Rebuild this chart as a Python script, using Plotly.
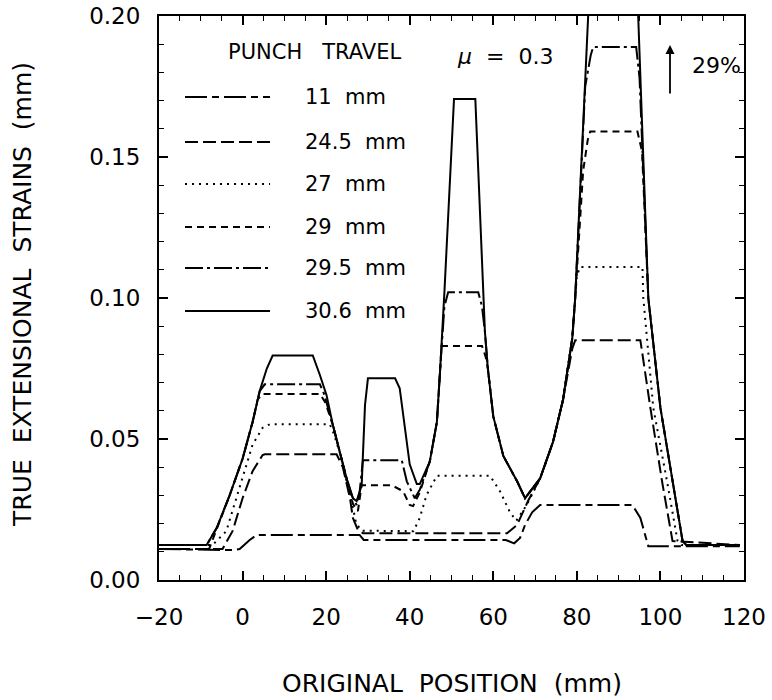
import plotly.graph_objects as go

# ---- data ----
x_306 = [-20, -8.6, -6.2, -3.1, 0, 2.4, 4.1, 5.8, 7.2, 16.8, 18.5, 20.1, 21.6, 23.3, 24.9, 26.4, 27.3, 28.5, 29.3, 30.0,
         36.5, 37.6, 38.8, 40.0, 41.7, 42.4, 44.8, 46.5, 47.3, 48.3, 50.6, 55.7, 58.0, 58.7, 60.0, 62.4, 65.7, 67.6,
         71.2, 74.3, 76.7, 78.9, 79.6, 82.7, 85.5, 92.5, 94.7, 97.1, 100.0, 103.1, 105.3, 106.2, 119]
y_306 = [0.0124, 0.0124, 0.0184, 0.030, 0.043, 0.056, 0.067, 0.075, 0.0796, 0.0796, 0.0727, 0.0655, 0.055, 0.0456,
         0.036, 0.029, 0.028, 0.0336, 0.062, 0.0715, 0.0715, 0.068, 0.054, 0.041, 0.034, 0.034, 0.042, 0.056, 0.075,
         0.102, 0.1706, 0.1706, 0.088, 0.075, 0.058, 0.044, 0.035, 0.029, 0.036, 0.049, 0.064, 0.0857, 0.100, 0.200,
         0.29, 0.29, 0.200, 0.100, 0.061, 0.0336, 0.0138, 0.0124, 0.0124]

x_295 = [-20, -8.6, -6.2, -3.1, 0, 2.4, 4.1, 5.3, 18.5, 19.5, 21.6, 23.3, 24.9, 26.4, 27.3, 28.0, 28.8, 38.1, 39.3,
         41.2, 42.4, 44.8, 46.5, 47.3, 48.3, 49.2, 56.4, 57.3, 58.0, 58.7, 60.0, 62.4, 65.7, 67.6, 71.2, 74.3, 76.7,
         78.9, 79.6, 82.0, 83.3, 83.9, 94.2, 95.0, 97.1, 100.0, 103.1, 105.3, 106.2, 119]
y_295 = [0.0124, 0.0124, 0.0184, 0.030, 0.043, 0.056, 0.067, 0.0694, 0.0694, 0.066, 0.055, 0.0456, 0.036, 0.029,
         0.0266, 0.031, 0.0425, 0.0425, 0.035, 0.029, 0.032, 0.042, 0.056, 0.075, 0.097, 0.102, 0.102, 0.097, 0.088,
         0.075, 0.058, 0.044, 0.035, 0.029, 0.036, 0.049, 0.064, 0.0857, 0.100, 0.175, 0.186, 0.189, 0.189, 0.178,
         0.100, 0.061, 0.0336, 0.0138, 0.0124, 0.0124]

x_29 = [-20, -8.0, -6.2, -3.1, 0, 2.4, 3.6, 4.8, 18.5, 19.8, 21.6, 23.3, 24.9, 26.4, 27.6, 28.5, 29.7, 35.7, 38.4,
        40.0, 40.8, 42.4, 44.8, 46.5, 47.3, 47.6, 57.3, 58.2, 58.7, 60.0, 62.4, 65.7, 67.6, 71.2, 74.3, 76.7, 78.9,
        79.6, 81.5, 82.6, 83.2, 94.5, 95.6, 97.1, 100.0, 103.1, 105.3, 106.2, 119]
y_29 = [0.011, 0.011, 0.018, 0.030, 0.043, 0.056, 0.064, 0.066, 0.066, 0.063, 0.055, 0.0456, 0.036, 0.027, 0.0244,
        0.0336, 0.0336, 0.0336, 0.0315, 0.0266, 0.0262, 0.031, 0.042, 0.056, 0.075, 0.083, 0.083, 0.079, 0.075, 0.058,
        0.044, 0.035, 0.029, 0.036, 0.049, 0.064, 0.0857, 0.100, 0.145, 0.156, 0.159, 0.159, 0.152, 0.100, 0.061,
        0.0336, 0.0138, 0.0124, 0.0124]

x_27 = [-20, -7.2, -3.9, -0.7, 2.4, 4.8, 6.5, 20.9, 21.8, 23.3, 25.0, 26.2, 27.2, 28.5, 40.9, 42.4, 44.0, 46.5, 59.2,
        61.6, 64.0, 65.5, 68.0, 71.2, 74.3, 76.7, 78.9, 79.6, 80.0, 80.8, 95.7, 95.9, 98.3, 101.7, 104.1, 105.0, 119]
y_27 = [0.0124, 0.0124, 0.0173, 0.0326, 0.048, 0.054, 0.0552, 0.0552, 0.052, 0.045, 0.035, 0.027, 0.020, 0.0175,
        0.0173, 0.022, 0.030, 0.037, 0.037, 0.0315, 0.024, 0.021, 0.0266, 0.036, 0.049, 0.064, 0.0857, 0.100, 0.108,
        0.111, 0.111, 0.100, 0.061, 0.034, 0.0138, 0.0124, 0.0124]

x_245 = [-20, -4.8, -2.4, 0, 2.4, 4.8, 5.3, 22.5, 24.0, 25.7, 26.4, 27.6, 28.8, 63.3, 65.7, 67.1, 68.3, 71.2, 74.3,
         76.7, 78.9, 79.6, 95.2, 97.6, 100.5, 102.9, 119]
y_245 = [0.011, 0.011, 0.0173, 0.029, 0.0386, 0.0443, 0.0446, 0.0446, 0.040, 0.029, 0.022, 0.0177, 0.0166, 0.0166,
         0.0195, 0.024, 0.028, 0.036, 0.049, 0.064, 0.082, 0.085, 0.085, 0.061, 0.034, 0.0138, 0.0124]

x_11 = [-20, -2.4, -0.7, 1.7, 3.4, 28.0, 29.0, 63.0, 65.0, 66.4, 67.6, 69.3, 71.2, 93.3, 95.2, 97.1, 119]
y_11 = [0.011, 0.0106, 0.011, 0.0142, 0.016, 0.016, 0.0142, 0.0142, 0.013, 0.0149, 0.0195, 0.024, 0.0266, 0.0266,
        0.022, 0.012, 0.012]

series_labels = ["11  mm", "24.5  mm", "27  mm", "29  mm", "29.5  mm", "30.6  mm"]
series_x = [x_11, x_245, x_27, x_29, x_295, x_306]
series_y = [y_11, y_245, y_27, y_29, y_295, y_306]
series_dash = ["22px,5px,7px,5px", "13px,5px", "2px,5px", "7px,5px", "18px,4px,3px,4px", "solid"]

x_ticks = [-20, 0, 20, 40, 60, 80, 100, 120]
y_ticks = [0.00, 0.05, 0.10, 0.15, 0.20]

FONT = "DejaVu Sans"

fig = go.Figure()
for xs, ys, d, name in zip(series_x, series_y, series_dash, series_labels):
    fig.add_trace(go.Scatter(x=xs, y=ys, mode="lines", name=name,
                             line=dict(color="black", width=2, dash=d), showlegend=False))

# body margin is removed in the page (post_script), so the figure fills the 772x700 window
W, H = 772, 700
L, R, T, B = 159, 28, 16, 120
pw, ph = W - L - R, H - T - B

def px_x(p):  # screen pixel -> paper
    return (p - L) / pw

def px_y(p):
    return 1 - (p - T) / ph

# hand-drawn legend (as in the reference)
leg_rows = [97, 142, 184, 227, 268, 311]
for row, name, d in zip(leg_rows, series_labels, series_dash):
    fig.add_shape(type="line", xref="paper", yref="paper",
                  x0=px_x(185), x1=px_x(270), y0=px_y(row), y1=px_y(row),
                  line=dict(color="black", width=2, dash=d))
    fig.add_annotation(xref="paper", yref="paper", x=px_x(303), y=px_y(row),
                       text=name, showarrow=False, xanchor="left", yanchor="middle",
                       font=dict(family=FONT, size=21, color="black"))

fig.add_annotation(xref="paper", yref="paper", x=px_x(314), y=px_y(52), text="PUNCH   TRAVEL",
                   showarrow=False, xanchor="center", yanchor="middle",
                   font=dict(family=FONT, size=21, color="black"))
fig.add_annotation(xref="paper", yref="paper", x=px_x(505), y=px_y(57), text="<i>μ</i>  =  0.3",
                   showarrow=False, xanchor="center", yanchor="middle",
                   font=dict(family=FONT, size=22, color="black"))
fig.add_annotation(xref="paper", yref="paper", x=px_x(743), y=px_y(65), text="29%",
                   showarrow=False, xanchor="right", yanchor="middle",
                   font=dict(family=FONT, size=22, color="black"))
fig.add_annotation(xref="paper", yref="paper", x=px_x(670), y=px_y(45), ax=0, ay=50,
                   axref="pixel", ayref="pixel", text="", showarrow=True,
                   arrowhead=2, arrowsize=1, arrowwidth=1.8, arrowcolor="black")

# axis titles
fig.add_annotation(xref="paper", yref="paper", x=px_x(452), y=px_y(683), text="ORIGINAL  POSITION  (mm)",
                   showarrow=False, xanchor="center", yanchor="middle",
                   font=dict(family=FONT, size=25, color="black"))
fig.add_annotation(xref="paper", yref="paper", x=px_x(22), y=px_y(295), text="TRUE  EXTENSIONAL  STRAINS  (mm)",
                   showarrow=False, xanchor="center", yanchor="middle", textangle=-90,
                   font=dict(family=FONT, size=25, color="black"))

axis_common = dict(showline=True, linecolor="black", linewidth=2, mirror="allticks",
                   ticks="inside", ticklen=9, tickwidth=1.5, tickcolor="black",
                   showgrid=False, zeroline=False, ticklabeloverflow="allow",
                   tickfont=dict(family=FONT, size=23, color="black"))

fig.update_xaxes(range=[-20, 120], tickvals=x_ticks, ticktext=[str(v).replace("-", "\u2212") for v in x_ticks],
                 minor=dict(dtick=5, ticks="inside", ticklen=5, tickwidth=1.2, tickcolor="black"),
                 ticklabelstandoff=15, **axis_common)
fig.update_yaxes(range=[0, 0.2], tickvals=y_ticks, ticktext=[f"{v:.2f}" for v in y_ticks],
                 minor=dict(dtick=0.01, ticks="inside", ticklen=5, tickwidth=1.2, tickcolor="black"),
                 ticklabelstandoff=12, **axis_common)

fig.update_layout(width=W, height=H, margin=dict(l=L, r=R, t=T, b=B, autoexpand=False),
                  paper_bgcolor="white", plot_bgcolor="white")

fig.write_html("out.html", config={"displayModeBar": False},
               post_script="document.body.style.margin='0';document.body.style.overflow='hidden';")
